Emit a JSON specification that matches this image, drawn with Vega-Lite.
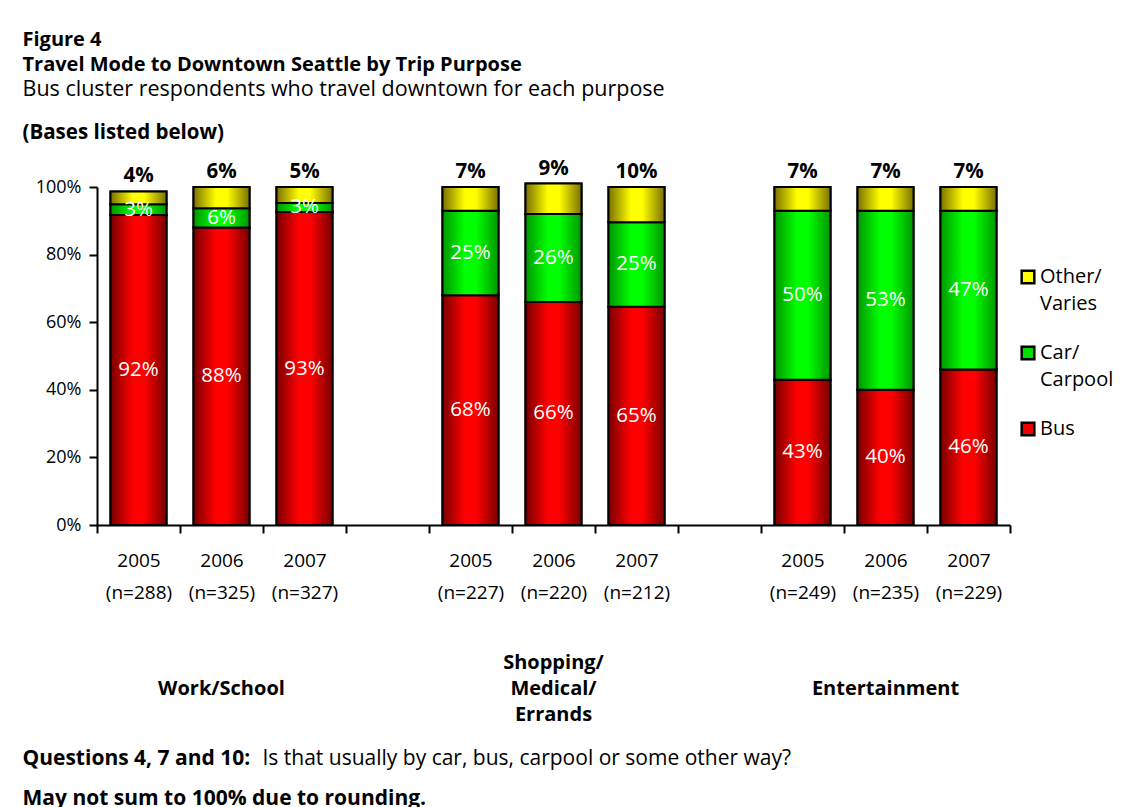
{
  "$schema": "https://vega.github.io/schema/vega-lite/v6.json",
  "width": 913,
  "height": 338,
  "autosize": {"type": "none"},
  "padding": {"left": 97, "top": 187, "right": 134, "bottom": 282},
  "background": "white",
  "config": {"font": "Open Sans", "view": {"stroke": null}, "axis": {"grid": false}},
  "data": {
    "values": [
      {"purpose": "Work/School", "bar": "2005 (n=288)", "mode": "Bus", "pct": 91.7},
      {"purpose": "Work/School", "bar": "2005 (n=288)", "mode": "Car/Carpool", "pct": 3.2},
      {"purpose": "Work/School", "bar": "2005 (n=288)", "mode": "Other/Varies", "pct": 3.8},
      {"purpose": "Work/School", "bar": "2006 (n=325)", "mode": "Bus", "pct": 88.0},
      {"purpose": "Work/School", "bar": "2006 (n=325)", "mode": "Car/Carpool", "pct": 5.7},
      {"purpose": "Work/School", "bar": "2006 (n=325)", "mode": "Other/Varies", "pct": 6.3},
      {"purpose": "Work/School", "bar": "2007 (n=327)", "mode": "Bus", "pct": 92.6},
      {"purpose": "Work/School", "bar": "2007 (n=327)", "mode": "Car/Carpool", "pct": 2.7},
      {"purpose": "Work/School", "bar": "2007 (n=327)", "mode": "Other/Varies", "pct": 4.7},
      {"purpose": "Shopping/Medical/Errands", "bar": "2005 (n=227)", "mode": "Bus", "pct": 68.0},
      {"purpose": "Shopping/Medical/Errands", "bar": "2005 (n=227)", "mode": "Car/Carpool", "pct": 25.0},
      {"purpose": "Shopping/Medical/Errands", "bar": "2005 (n=227)", "mode": "Other/Varies", "pct": 7.0},
      {"purpose": "Shopping/Medical/Errands", "bar": "2006 (n=220)", "mode": "Bus", "pct": 66.0},
      {"purpose": "Shopping/Medical/Errands", "bar": "2006 (n=220)", "mode": "Car/Carpool", "pct": 26.0},
      {"purpose": "Shopping/Medical/Errands", "bar": "2006 (n=220)", "mode": "Other/Varies", "pct": 9.0},
      {"purpose": "Shopping/Medical/Errands", "bar": "2007 (n=212)", "mode": "Bus", "pct": 64.6},
      {"purpose": "Shopping/Medical/Errands", "bar": "2007 (n=212)", "mode": "Car/Carpool", "pct": 25.0},
      {"purpose": "Shopping/Medical/Errands", "bar": "2007 (n=212)", "mode": "Other/Varies", "pct": 10.4},
      {"purpose": "Entertainment", "bar": "2005 (n=249)", "mode": "Bus", "pct": 43.0},
      {"purpose": "Entertainment", "bar": "2005 (n=249)", "mode": "Car/Carpool", "pct": 50.0},
      {"purpose": "Entertainment", "bar": "2005 (n=249)", "mode": "Other/Varies", "pct": 7.0},
      {"purpose": "Entertainment", "bar": "2006 (n=235)", "mode": "Bus", "pct": 40.0},
      {"purpose": "Entertainment", "bar": "2006 (n=235)", "mode": "Car/Carpool", "pct": 53.0},
      {"purpose": "Entertainment", "bar": "2006 (n=235)", "mode": "Other/Varies", "pct": 7.0},
      {"purpose": "Entertainment", "bar": "2007 (n=229)", "mode": "Bus", "pct": 46.0},
      {"purpose": "Entertainment", "bar": "2007 (n=229)", "mode": "Car/Carpool", "pct": 47.0},
      {"purpose": "Entertainment", "bar": "2007 (n=229)", "mode": "Other/Varies", "pct": 7.0}
    ]
  },
  "transform": [
    {"stack": "pct", "groupby": ["bar"], "sort": [{"field": "mode", "order": "ascending"}], "as": ["y0", "y1"]},
    {"calculate": "(datum.y0 + datum.y1) / 2", "as": "ymid"},
    {"calculate": "format(datum.pct, '.0f') + '%'", "as": "lbl"}
  ],
  "resolve": {"axis": {"x": "independent", "y": "independent"}},
  "layer": [
    {
      "mark": {"type": "bar", "stroke": "black", "strokeWidth": 2, "width": {"band": 0.675}},
      "encoding": {
        "x": {
          "field": "bar", "type": "nominal",
          "scale": {"domain": ["2005 (n=288)", "2006 (n=325)", "2007 (n=327)", "gap1", "2005 (n=227)", "2006 (n=220)", "2007 (n=212)", "gap2", "2005 (n=249)", "2006 (n=235)", "2007 (n=229)"], "paddingInner": 0, "paddingOuter": 0},
          "axis": {
            "orient": "bottom",
            "labelExpr": "(!datum.label || indexof(datum.label, 'gap') == 0) ? '' : split(datum.label, ' ')",
            "labelFontSize": 19, "labelColor": "black", "labelLineHeight": 32, "labelBaseline": "middle",
            "labelPadding": 27, "labelAngle": 0, "labelOverlap": false,
            "tickBand": "extent", "tickSize": 8, "tickWidth": 2, "tickColor": "black",
            "domainColor": "black", "domainWidth": 2,
            "title": ["Questions 4, 7 and 10:", "May not sum to 100% due to rounding."],
            "titleFontWeight": "bold", "titleFontSize": 21, "titleColor": "black", "titleAngle": 0,
            "titleAlign": "left", "titleBaseline": "middle", "titleX": -75, "titleY": 233, "titleLineHeight": 40
          }
        },
        "y": {
          "field": "y1", "type": "quantitative",
          "scale": {"domain": [0, 100], "nice": false},
          "axis": {
            "orient": "left",
            "values": [0, 20, 40, 60, 80, 100], "labelExpr": "datum.value + '%'",
            "labelFontSize": 18, "labelColor": "black", "labelPadding": 8,
            "tickSize": 8, "tickWidth": 2, "tickColor": "black",
            "domainColor": "black", "domainWidth": 2, "grid": false,
            "title": "(Bases listed below)", "titleFontWeight": "bold", "titleFontSize": 20.5, "titleColor": "black",
            "titleAngle": 0, "titleAlign": "left", "titleBaseline": "middle", "titleX": -75, "titleY": -55
          }
        },
        "y2": {"field": "y0"},
        "color": {
          "field": "mode", "type": "nominal",
          "scale": {"domain": ["Other/Varies", "Car/Carpool", "Bus"], "range": ["#FFFF00", "#00E000", "#EE0000"]},
          "legend": {
            "orient": "none", "legendX": 921, "legendY": 80, "title": null,
            "labelFontSize": 20, "labelColor": "black",
            "labelExpr": "datum.label == 'Other/Varies' ? ['Other/', 'Varies'] : datum.label == 'Car/Carpool' ? ['Car/', 'Carpool'] : datum.label",
            "symbolType": "square", "symbolSize": 160, "symbolStrokeColor": "black", "symbolStrokeWidth": 2.5,
            "symbolOpacity": 1, "rowPadding": 27, "labelOffset": 2,
            "encode": {"labels": {"update": {"lineHeight": {"value": 27}}}}
          }
        }
      }
    },
    {
      "mark": {"type": "bar", "stroke": "black", "strokeWidth": 2, "width": {"band": 0.675}},
      "encoding": {
        "x": {
          "field": "bar", "type": "nominal",
          "scale": {"domain": ["2005 (n=288)", "2006 (n=325)", "2007 (n=327)", "gap1", "2005 (n=227)", "2006 (n=220)", "2007 (n=212)", "gap2", "2005 (n=249)", "2006 (n=235)", "2007 (n=229)"], "paddingInner": 0, "paddingOuter": 0},
          "axis": {
            "orient": "bottom", "ticks": false, "domain": false, "tickSize": 0,
            "labelExpr": "datum.label == '2006 (n=325)' ? ['', 'Work/School'] : datum.label == '2006 (n=220)' ? ['Shopping/', 'Medical/', 'Errands'] : datum.label == '2006 (n=235)' ? ['', 'Entertainment'] : ''",
            "labelFontWeight": "bold", "labelFontSize": 20, "labelColor": "black", "labelLineHeight": 26,
            "labelBaseline": "middle", "labelPadding": 137, "labelAngle": 0, "labelOverlap": false,
            "title": "Is that usually by car, bus, carpool or some other way?",
            "titleFontWeight": "normal", "titleFontSize": 21, "titleColor": "black", "titleAngle": 0,
            "titleAlign": "left", "titleBaseline": "middle", "titleX": 165, "titleY": 233
          }
        },
        "y": {
          "field": "y1", "type": "quantitative",
          "scale": {"domain": [0, 100], "nice": false},
          "axis": {
            "orient": "left",
            "labels": false, "ticks": false, "domain": false, "grid": false,
            "title": ["Figure 4", "Travel Mode to Downtown Seattle by Trip Purpose"],
            "titleFontWeight": "bold", "titleFontSize": 20, "titleColor": "black", "titleLineHeight": 24.5,
            "titleAngle": 0, "titleAlign": "left", "titleBaseline": "middle", "titleX": -75, "titleY": -147.5
          }
        },
        "y2": {"field": "y0"},
        "color": {
          "condition": [
            {"test": "datum.mode === 'Bus'", "value": {"gradient": "linear", "x1": 0, "x2": 1, "y1": 0, "y2": 0, "stops": [{"offset": 0, "color": "#780000"}, {"offset": 0.4, "color": "#FF0000"}, {"offset": 0.6, "color": "#FF0000"}, {"offset": 1, "color": "#780000"}]}},
            {"test": "datum.mode === 'Car/Carpool'", "value": {"gradient": "linear", "x1": 0, "x2": 1, "y1": 0, "y2": 0, "stops": [{"offset": 0, "color": "#009600"}, {"offset": 0.4, "color": "#00FF00"}, {"offset": 0.6, "color": "#00FF00"}, {"offset": 1, "color": "#009600"}]}}
          ],
          "value": {"gradient": "linear", "x1": 0, "x2": 1, "y1": 0, "y2": 0, "stops": [{"offset": 0, "color": "#7A7000"}, {"offset": 0.4, "color": "#FFFF00"}, {"offset": 0.6, "color": "#FFFF00"}, {"offset": 1, "color": "#7A7000"}]}
        }
      }
    },
    {
      "transform": [{"filter": "datum.mode !== 'Other/Varies'"}],
      "mark": {"type": "text", "color": "white", "fontSize": 20.5, "baseline": "middle", "align": "center"},
      "encoding": {
        "x": {
          "field": "bar", "type": "nominal",
          "scale": {"domain": ["2005 (n=288)", "2006 (n=325)", "2007 (n=327)", "gap1", "2005 (n=227)", "2006 (n=220)", "2007 (n=212)", "gap2", "2005 (n=249)", "2006 (n=235)", "2007 (n=229)"], "paddingInner": 0, "paddingOuter": 0},
          "axis": null
        },
        "y": {
          "field": "ymid", "type": "quantitative",
          "scale": {"domain": [0, 100], "nice": false},
          "axis": {
            "orient": "left",
            "labels": false, "ticks": false, "domain": false, "grid": false,
            "title": "Bus cluster respondents who travel downtown for each purpose",
            "titleFontWeight": "normal", "titleFontSize": 21.5, "titleColor": "black",
            "titleAngle": 0, "titleAlign": "left", "titleBaseline": "middle", "titleX": -75, "titleY": -97.5
          }
        },
        "text": {"field": "lbl", "type": "nominal"}
      }
    },
    {
      "transform": [{"filter": "datum.mode === 'Other/Varies'"}],
      "mark": {"type": "text", "color": "black", "fontSize": 20.5, "fontWeight": "bold", "baseline": "bottom", "align": "center", "dy": -5},
      "encoding": {
        "x": {
          "field": "bar", "type": "nominal",
          "scale": {"domain": ["2005 (n=288)", "2006 (n=325)", "2007 (n=327)", "gap1", "2005 (n=227)", "2006 (n=220)", "2007 (n=212)", "gap2", "2005 (n=249)", "2006 (n=235)", "2007 (n=229)"], "paddingInner": 0, "paddingOuter": 0},
          "axis": null
        },
        "y": {"field": "y1", "type": "quantitative", "scale": {"domain": [0, 100], "nice": false}, "axis": null},
        "text": {"field": "lbl", "type": "nominal"}
      }
    }
  ]
}
